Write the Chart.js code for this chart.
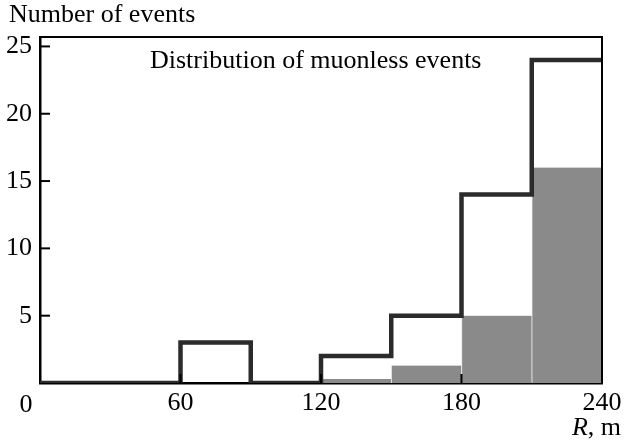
<!DOCTYPE html>
<html>
<head>
<meta charset="utf-8">
<script src="https://cdn.jsdelivr.net/npm/chart.js@4/dist/chart.umd.min.js"></script>
<style>
  html, body { margin: 0; padding: 0; background: #fff; }
  #wrap { position: relative; width: 624px; height: 446px; }
</style>
</head>
<body>
<div id="wrap"><canvas id="histChart" width="624" height="446"></canvas></div>
<script>
// ── histogram data (bins of 30 m) ───────────────────────────────
const binStarts   = [0, 30, 60, 90, 120, 150, 180, 210];
const binWidth    = 30;
const allEvents   = [0, 0, 3, 0, 2, 5, 14, 24];       // dark step outline
const greyEvents  = [0, 0, 0, 0, 0.3, 1.3, 5, 16];     // filled grey bars
const xTickValues = [0, 60, 120, 180, 240];
const yTickValues = [5, 10, 15, 20, 25];

const SERIF = '"Liberation Serif", "DejaVu Serif", serif';

// step outline points: left edge of every bin, plus the closing edge
const stepPoints = binStarts.map((x, i) => ({ x: x, y: allEvents[i] }));
stepPoints.push({ x: binStarts[binStarts.length - 1] + binWidth, y: allEvents[allEvents.length - 1] });

const barPoints = binStarts.map((x, i) => ({ x: x + binWidth / 2, y: greyEvents[i] }));

// frame, inward ticks and loose texts
const decorPlugin = {
  id: 'decor',
  afterDraw(chart) {
    const { ctx, chartArea: a, scales } = chart;
    ctx.save();
    ctx.strokeStyle = '#000';
    ctx.lineWidth = 2;
    ctx.beginPath();
    ctx.moveTo(a.left, a.top);
    ctx.lineTo(a.right, a.top);
    ctx.lineTo(a.right, a.bottom);
    ctx.stroke();

    yTickValues.forEach(v => {
      const y = scales.y.getPixelForValue(v);
      ctx.beginPath();
      ctx.moveTo(a.left, y);
      ctx.lineTo(a.left + 10, y);
      ctx.stroke();
    });
    xTickValues.slice(1, -1).forEach(v => {
      const x = scales.x.getPixelForValue(v);
      ctx.beginPath();
      ctx.moveTo(x, a.bottom);
      ctx.lineTo(x, a.bottom - 9);
      ctx.stroke();
    });

    ctx.fillStyle = '#000';
    ctx.font = '26px ' + SERIF;
    ctx.textBaseline = 'alphabetic';
    ctx.textAlign = 'left';
    ctx.fillText('Number of events', 9, 22);
    ctx.fillText('Distribution of muonless events', 150, 68);

    // origin label sits left of the axis
    ctx.textAlign = 'center';
    ctx.fillText('0', a.left - 14, 412);

    // axis unit, "R" in italics
    ctx.textAlign = 'left';
    const unit = ', m';
    const uw = ctx.measureText(unit).width;
    ctx.fillText(unit, 621 - uw, 435);
    ctx.font = 'italic 26px ' + SERIF;
    const rw = ctx.measureText('R').width;
    ctx.fillText('R', 621 - uw - rw, 435);
    ctx.restore();
  }
};

function drawHistogram() {
  const ctx = document.getElementById('histChart').getContext('2d');

  new Chart(ctx, {
    type: 'bar',
    data: {
      datasets: [
        {
          type: 'line',
          data: stepPoints,
          stepped: 'before',
          borderColor: '#2b2b2b',
          borderWidth: 4.5,
          borderJoinStyle: 'miter',
          pointRadius: 0,
          fill: false,
          order: 0,
        },
        {
          type: 'bar',
          data: barPoints,
          backgroundColor: '#8a8a8a',
          borderColor: '#e6e6e6',
          borderWidth: { left: 1, right: 0, top: 0, bottom: 0 },
          borderSkipped: false,
          barPercentage: 1.0,
          categoryPercentage: 1.0,
          grouped: false,
          order: 1,
        }
      ]
    },
    options: {
      responsive: false,
      animation: false,
      devicePixelRatio: 1,
      layout: { padding: { top: 37, right: 22, left: 0, bottom: 0 } },
      plugins: { legend: { display: false }, tooltip: { enabled: false } },
      scales: {
        x: {
          type: 'linear',
          min: 0,
          max: 240,
          offset: false,
          afterBuildTicks: (s) => { s.ticks = xTickValues.map(v => ({ value: v })); },
          ticks: {
            color: '#000',
            font: { family: SERIF, size: 26 },
            padding: 5,
            maxRotation: 0,
            callback: (v) => (v === 0 ? '' : String(v)),
          },
          grid: { display: false, drawTicks: false },
          border: { display: true, color: '#000', width: 2.5 },
          afterFit: (s) => { s.height = 63; s.paddingLeft = 0; s.paddingRight = 0; },
        },
        y: {
          min: 0,
          max: 25.7,
          afterBuildTicks: (s) => { s.ticks = yTickValues.map(v => ({ value: v })); },
          ticks: {
            color: '#000',
            font: { family: SERIF, size: 26 },
            padding: 8,
          },
          grid: { display: false, drawTicks: false },
          border: { display: true, color: '#000', width: 2.5 },
          afterFit: (s) => { s.width = 40; s.paddingTop = 0; s.paddingBottom = 0; },
        }
      }
    },
    plugins: [decorPlugin]
  });
}

window.addEventListener('DOMContentLoaded', () => {
  drawHistogram();
});
</script>
</body>
</html>
